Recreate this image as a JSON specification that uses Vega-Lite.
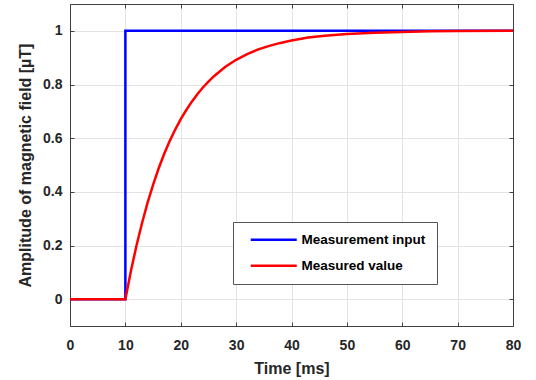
{
  "$schema": "https://vega.github.io/schema/vega-lite/v6.json",
  "width": 443,
  "height": 322,
  "autosize": {"type": "none"},
  "padding": {"left": 70, "top": 4, "right": 23, "bottom": 54},
  "background": "white",
  "config": {
    "view": {"stroke": null},
    "font": "Liberation Sans",
    "axis": {
      "labelFont": "Liberation Sans",
      "labelFontWeight": "bold",
      "labelFontSize": 14,
      "labelColor": "#262626",
      "labelFlush": false,
      "titleFont": "Liberation Sans",
      "titleFontWeight": "bold",
      "titleFontSize": 16,
      "titleColor": "#262626",
      "domainColor": "#404040",
      "domainWidth": 1,
      "tickColor": "#404040",
      "tickWidth": 1,
      "tickSize": -4,
      "gridColor": "#E3E3E3",
      "gridWidth": 1
    },
    "legend": {
      "labelFont": "Liberation Sans",
      "labelFontWeight": "bold",
      "labelFontSize": 13.5,
      "labelColor": "#000000",
      "symbolType": "M0,0L20,0",
      "symbolSize": 21.16,
      "symbolStrokeWidth": 2.5,
      "strokeColor": "#555555",
      "fillColor": "white",
      "padding": 11,
      "rowPadding": 11,
      "labelOffset": 44
    }
  },
  "data": {
    "values": [
      {"s": "Measurement input", "t": 0, "v": 0},
      {"s": "Measurement input", "t": 10, "v": 0},
      {"s": "Measurement input", "t": 10, "v": 1},
      {"s": "Measurement input", "t": 80, "v": 1},
      {"s": "Measured value", "t": 0, "v": 0},
      {"s": "Measured value", "t": 10, "v": 0},
      {"s": "Measured value", "t": 11, "v": 0.105},
      {"s": "Measured value", "t": 12, "v": 0.199},
      {"s": "Measured value", "t": 13, "v": 0.283},
      {"s": "Measured value", "t": 14, "v": 0.359},
      {"s": "Measured value", "t": 15, "v": 0.426},
      {"s": "Measured value", "t": 16, "v": 0.487},
      {"s": "Measured value", "t": 17, "v": 0.541},
      {"s": "Measured value", "t": 18, "v": 0.589},
      {"s": "Measured value", "t": 19, "v": 0.632},
      {"s": "Measured value", "t": 20, "v": 0.671},
      {"s": "Measured value", "t": 21, "v": 0.705},
      {"s": "Measured value", "t": 22, "v": 0.736},
      {"s": "Measured value", "t": 23, "v": 0.764},
      {"s": "Measured value", "t": 24, "v": 0.789},
      {"s": "Measured value", "t": 25, "v": 0.811},
      {"s": "Measured value", "t": 26, "v": 0.831},
      {"s": "Measured value", "t": 28, "v": 0.865},
      {"s": "Measured value", "t": 30, "v": 0.892},
      {"s": "Measured value", "t": 32, "v": 0.913},
      {"s": "Measured value", "t": 34, "v": 0.931},
      {"s": "Measured value", "t": 36, "v": 0.944},
      {"s": "Measured value", "t": 38, "v": 0.955},
      {"s": "Measured value", "t": 40, "v": 0.964},
      {"s": "Measured value", "t": 43, "v": 0.975},
      {"s": "Measured value", "t": 46, "v": 0.982},
      {"s": "Measured value", "t": 50, "v": 0.988},
      {"s": "Measured value", "t": 55, "v": 0.993},
      {"s": "Measured value", "t": 60, "v": 0.996},
      {"s": "Measured value", "t": 65, "v": 0.998},
      {"s": "Measured value", "t": 70, "v": 0.999},
      {"s": "Measured value", "t": 80, "v": 1.0}
    ]
  },
  "encoding": {
    "x": {"field": "t", "type": "quantitative", "scale": {"domain": [0, 80], "nice": false}},
    "y": {"field": "v", "type": "quantitative", "scale": {"domain": [-0.1, 1.1], "nice": false, "zero": false}},
    "color": {
      "field": "s",
      "type": "nominal",
      "scale": {"domain": ["Measurement input", "Measured value"], "range": ["#0000FF", "#FF0000"]},
      "legend": {"title": null, "orient": "none", "legendX": 163, "legendY": 218}
    },
    "order": {"value": null}
  },
  "layer": [
    {
      "transform": [{"filter": "datum.s === 'Measurement input'"}],
      "mark": {"type": "line", "strokeWidth": 2.5, "strokeCap": "butt", "strokeJoin": "miter"},
      "encoding": {
        "x": {"field": "t", "type": "quantitative", "axis": {"title": "Time [ms]", "values": [0, 10, 20, 30, 40, 50, 60, 70, 80], "grid": true, "labelPadding": 16, "titlePadding": 8}},
        "y": {"field": "v", "type": "quantitative", "axis": {"title": "Amplitude of magnetic field [µT]", "values": [0, 0.2, 0.4, 0.6, 0.8, 1], "format": "~g", "grid": true, "labelPadding": 12, "titlePadding": 9}}
      }
    },
    {
      "transform": [{"filter": "datum.s === 'Measured value'"}],
      "mark": {"type": "line", "strokeWidth": 2.5, "strokeCap": "butt"},
      "encoding": {
        "x": {"field": "t", "type": "quantitative", "axis": {"orient": "top", "title": null, "labels": false, "grid": false, "values": [0, 10, 20, 30, 40, 50, 60, 70, 80]}},
        "y": {"field": "v", "type": "quantitative", "axis": {"orient": "right", "title": null, "labels": false, "grid": false, "values": [0, 0.2, 0.4, 0.6, 0.8, 1]}}
      }
    }
  ],
  "resolve": {"axis": {"x": "independent", "y": "independent"}}
}
